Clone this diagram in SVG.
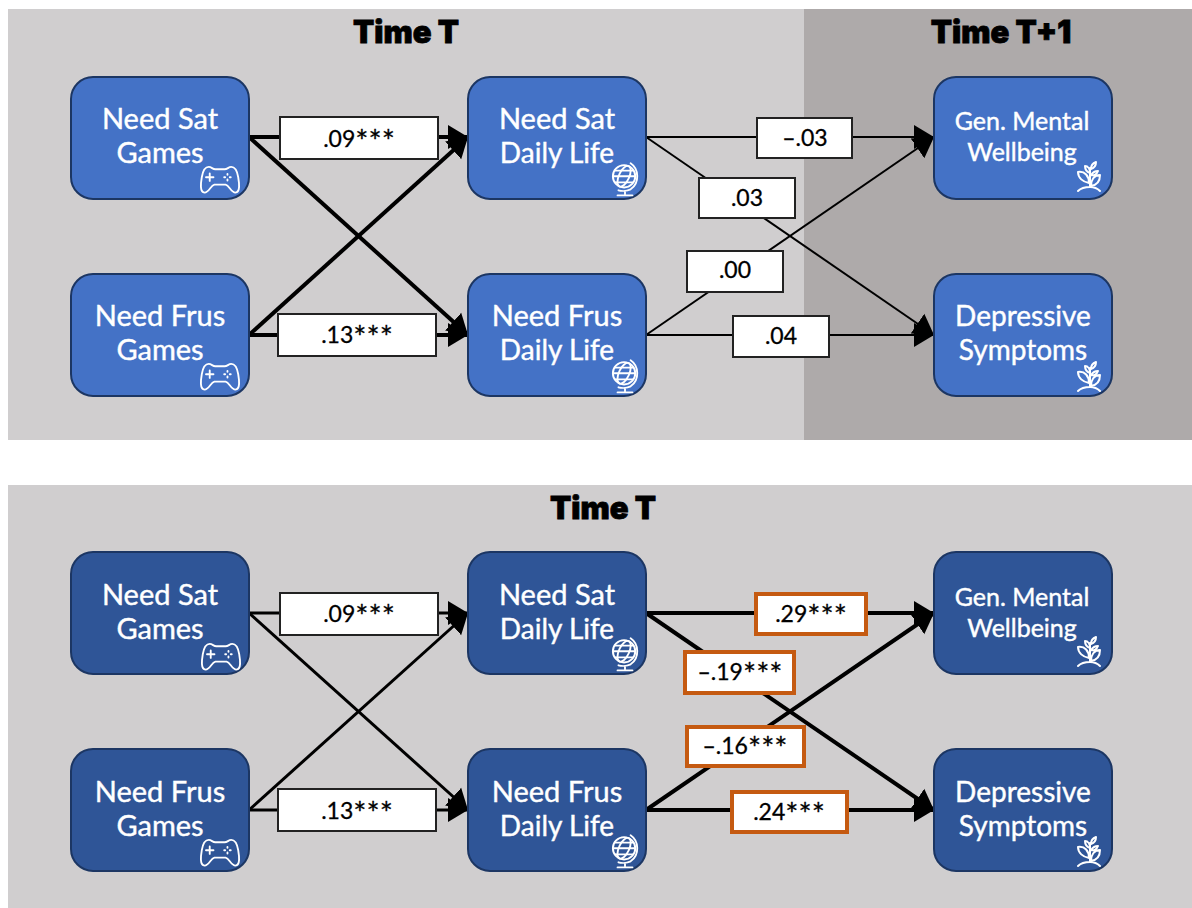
<svg xmlns="http://www.w3.org/2000/svg" width="1192" height="908" viewBox="0 0 1192 908">
<style>
text{font-family:"Lato","Liberation Sans",sans-serif;text-anchor:middle}
.title{font-family:"Inter","Liberation Sans",sans-serif;font-size:31px;font-weight:900;fill:#000;stroke:#000;stroke-width:.8}
.n{stroke:#1c3663;stroke-width:2}
.a{fill:#4472c6}.b{fill:#2f5597}
.t{fill:#fff;font-size:29px;stroke:#fff;stroke-width:.4}
.d{fill:#fff;font-size:28px;stroke:#fff;stroke-width:.4}
.ts{fill:#fff;font-size:25px;stroke:#fff;stroke-width:.4}
.lb{fill:#fff;stroke:#222;stroke-width:2}
.lo{fill:#fff;stroke:#c55a11;stroke-width:4}
.l{fill:#000;font-size:23px;stroke:#000;stroke-width:.3}
.s{font-size:31px}
.c{fill:none;stroke:#000}
.w2{stroke-width:2}.w3{stroke-width:3}.w4{stroke-width:4}
.i{fill:none;stroke:#fff;stroke-width:2;stroke-linecap:round;stroke-linejoin:round}
</style>
<defs>
<marker id="ah" markerUnits="userSpaceOnUse" markerWidth="24" markerHeight="26" refX="20" refY="12" orient="auto" viewBox="0 0 24 24"><path d="M0 0L20 12L0 24Z" fill="#000"/></marker>
<symbol id="pad" viewBox="0 0 44 30" overflow="visible"><path class="i" d="M10 1C13 1 14 3.500 17 3.500H27C30 3.500 31 1 34 1C38 1 40.500 6 41.500 12C42.500 18 44 28 38.500 28.500C34 28.500 32 21 28 20H16C12 21 10 28.500 5.500 28.500C0 28 1.500 18 2.500 12C3.500 6 6 1 10 1Z"/><path class="i" d="M11 8V16M7 12H15M30 8.500V9.500M30 14.500V15.500M26.500 12H27.500M32.500 12H33.500"/></symbol>
<symbol id="globe" viewBox="0 0 30 36" overflow="visible"><circle class="i" cx="14" cy="14" r="12"/><ellipse class="i" cx="14" cy="14" rx="5.500" ry="12" transform="rotate(25 14 14)"/><path class="i" d="M4 8L24 8M2.500 14H25.500M5 20.500H23M21 0C30 6 31 21 21 28C17 30 11 30 8 29M15 30V33M7 34.500H23"/></symbol>
<symbol id="plant" viewBox="0 0 24 30" overflow="visible"><path class="i" d="M13 25V6M12 21C6 20 1 16 1 10C8 9 12 14 12 21ZM14 24C20 23 23 19 23 13C17 13 14 18 14 24ZM13 11C10 10 8 8 8 4C11 4 13 7 13 11ZM14 7C14 3 16 1 19 0C19 4 17 6 14 7ZM14 13C16 10 18 9 21 9C20 12 17 14 14 13ZM1 29C4 26 8 25 13 25C17 25 20 26 23 29"/></symbol>
</defs>

<rect id="panel-top" x="8" y="9" width="796" height="431" fill="#d0cecf"/>
<rect id="panel-top-t1" x="804" y="9" width="388" height="431" fill="#aeaaaa"/>
<rect id="panel-bottom" x="8" y="485" width="1184" height="423" fill="#d0cecf"/>
<text id="title-t" class="title" x="406" y="43">Time T</text>
<text id="title-t1" class="title" x="1001" y="43">Time T+1</text>
<text id="title-b" class="title" x="603" y="519">Time T</text>

<g id="connectors">
<path class="c w4" d="M249 137H468" marker-end="url(#ah)"/>
<path class="c w4" d="M249 137L468 335" marker-end="url(#ah)"/>
<path class="c w4" d="M249 335L468 137" marker-end="url(#ah)"/>
<path class="c w4" d="M249 335H468" marker-end="url(#ah)"/>
<path class="c w2" d="M646 137H934" marker-end="url(#ah)"/>
<path class="c w2" d="M646 137L934 335" marker-end="url(#ah)"/>
<path class="c w2" d="M646 335L934 137" marker-end="url(#ah)"/>
<path class="c w2" d="M646 335H934" marker-end="url(#ah)"/>
<path class="c w3" d="M249 613H468" marker-end="url(#ah)"/>
<path class="c w3" d="M249 613L468 810" marker-end="url(#ah)"/>
<path class="c w3" d="M249 810L468 613" marker-end="url(#ah)"/>
<path class="c w3" d="M249 810H468" marker-end="url(#ah)"/>
<path class="c w4" d="M646 613H934" marker-end="url(#ah)"/>
<path class="c w4" d="M646 613L934 810" marker-end="url(#ah)"/>
<path class="c w4" d="M646 810L934 613" marker-end="url(#ah)"/>
<path class="c w4" d="M646 810H934" marker-end="url(#ah)"/>
</g>

<g id="labels">
<g id="l1"><rect class="lb" x="280" y="117" width="158" height="42"/><text class="l" x="359" y="147">.09<tspan class="s" dy="5">***</tspan></text></g>
<g id="l2"><rect class="lb" x="278" y="314" width="158" height="42"/><text class="l" x="357" y="343">.13<tspan class="s" dy="5">***</tspan></text></g>
<g id="l3"><rect class="lb" x="757" y="118" width="95" height="40"/><text class="l" x="805" y="146">–.03</text></g>
<g id="l4"><rect class="lb" x="699" y="178" width="96" height="40"/><text class="l" x="747" y="206">.03</text></g>
<g id="l5"><rect class="lb" x="687" y="251" width="96" height="41"/><text class="l" x="735" y="278">.00</text></g>
<g id="l6"><rect class="lb" x="733" y="316" width="96" height="41"/><text class="l" x="781" y="344">.04</text></g>
<g id="l7"><rect class="lb" x="280" y="593" width="158" height="42"/><text class="l" x="359" y="622">.09<tspan class="s" dy="5">***</tspan></text></g>
<g id="l8"><rect class="lb" x="278" y="789" width="158" height="42"/><text class="l" x="357" y="819">.13<tspan class="s" dy="5">***</tspan></text></g>
<g id="l9"><rect class="lo" x="756" y="594" width="110" height="40"/><text class="l" x="811" y="622">.29<tspan class="s" dy="5">***</tspan></text></g>
<g id="l10"><rect class="lo" x="685" y="652" width="109" height="41"/><text class="l" x="740" y="680">–.19<tspan class="s" dy="5">***</tspan></text></g>
<g id="l11"><rect class="lo" x="687" y="727" width="117" height="39"/><text class="l" x="745" y="754">–.16<tspan class="s" dy="5">***</tspan></text></g>
<g id="l12"><rect class="lo" x="732" y="792" width="115" height="40"/><text class="l" x="789" y="820">.24<tspan class="s" dy="5">***</tspan></text></g>
</g>

<g id="n1"><rect class="n a" x="71" y="77" width="178" height="122" rx="22"/><text class="t" x="160" y="129">Need Sat</text><text class="t" x="160" y="163">Games</text><use href="#pad" x="199" y="166" width="42" height="28"/></g>
<g id="n2"><rect class="n a" x="71" y="274" width="178" height="122" rx="22"/><text class="t" x="160" y="326">Need Frus</text><text class="t" x="160" y="360">Games</text><use href="#pad" x="199" y="363" width="42" height="28"/></g>
<g id="n3"><rect class="n a" x="468" y="77" width="178" height="122" rx="22"/><text class="t" x="557" y="129">Need Sat</text><text class="d" x="557" y="163">Daily Life</text><use href="#globe" x="611" y="163" width="28" height="34"/></g>
<g id="n4"><rect class="n a" x="468" y="274" width="178" height="122" rx="22"/><text class="t" x="557" y="326">Need Frus</text><text class="d" x="557" y="360">Daily Life</text><use href="#globe" x="611" y="360" width="28" height="34"/></g>
<g id="n5"><rect class="n a" x="934" y="77" width="178" height="122" rx="22"/><text class="ts" x="1022" y="130">Gen. Mental</text><text class="ts" x="1022" y="161">Wellbeing</text><use href="#plant" x="1077" y="162" width="24" height="30"/></g>
<g id="n6"><rect class="n a" x="934" y="274" width="178" height="122" rx="22"/><text class="d" x="1023" y="326">Depressive</text><text class="d" x="1023" y="360">Symptoms</text><use href="#plant" x="1077" y="362" width="24" height="30"/></g>
<g id="n7"><rect class="n b" x="71" y="552" width="178" height="122" rx="22"/><text class="t" x="160" y="605">Need Sat</text><text class="t" x="160" y="639">Games</text><use href="#pad" x="200" y="643" width="42" height="28"/></g>
<g id="n8"><rect class="n b" x="71" y="749" width="178" height="122" rx="22"/><text class="t" x="160" y="802">Need Frus</text><text class="t" x="160" y="836">Games</text><use href="#pad" x="199" y="839" width="42" height="28"/></g>
<g id="n9"><rect class="n b" x="468" y="552" width="178" height="122" rx="22"/><text class="t" x="557" y="605">Need Sat</text><text class="d" x="557" y="639">Daily Life</text><use href="#globe" x="611" y="638" width="28" height="34"/></g>
<g id="n10"><rect class="n b" x="468" y="749" width="178" height="122" rx="22"/><text class="t" x="557" y="802">Need Frus</text><text class="d" x="557" y="836">Daily Life</text><use href="#globe" x="611" y="835" width="28" height="34"/></g>
<g id="n11"><rect class="n b" x="934" y="552" width="178" height="122" rx="22"/><text class="ts" x="1022" y="606">Gen. Mental</text><text class="ts" x="1022" y="637">Wellbeing</text><use href="#plant" x="1077" y="637" width="24" height="30"/></g>
<g id="n12"><rect class="n b" x="934" y="749" width="178" height="122" rx="22"/><text class="d" x="1023" y="802">Depressive</text><text class="d" x="1023" y="836">Symptoms</text><use href="#plant" x="1077" y="837" width="24" height="30"/></g>
</svg>
